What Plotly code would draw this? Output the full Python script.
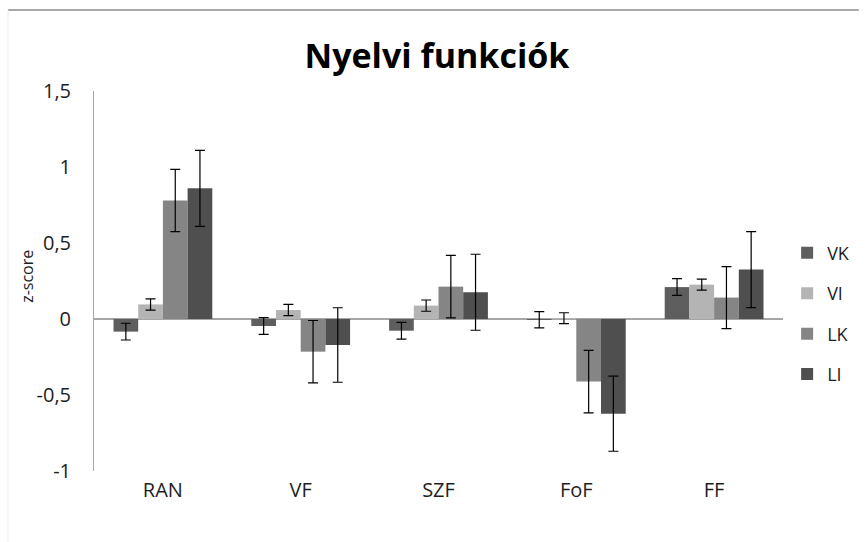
import plotly.graph_objects as go

# Language-function z-scores per group (mean and error)
categories = ["RAN", "VF", "SZF", "FoF", "FF"]
series_names = ["VK", "VI", "LK", "LI"]

vk_values = [-0.083, -0.046, -0.077, -0.005, 0.21]
vi_values = [0.096, 0.059, 0.088, 0.005, 0.226]
lk_values = [0.78, -0.215, 0.213, -0.412, 0.141]
li_values = [0.86, -0.171, 0.176, -0.623, 0.325]

vk_errors = [0.055, 0.055, 0.055, 0.053, 0.055]
vi_errors = [0.037, 0.037, 0.037, 0.036, 0.036]
lk_errors = [0.205, 0.205, 0.205, 0.205, 0.204]
li_errors = [0.25, 0.245, 0.25, 0.247, 0.25]

y_tickvals = [-1, -0.5, 0, 0.5, 1, 1.5]
y_ticktext = ["-1", "-0,5", "0", "0,5", "1", "1,5"]

colors = ["#5e5e5e", "#b4b4b4", "#858585", "#4f4f4f"]
FONT = "Open Sans"
TEXT = "#1e1e1e"

fig = go.Figure()
for i, (name, vals, errs) in enumerate(zip(
        series_names,
        [vk_values, vi_values, lk_values, li_values],
        [vk_errors, vi_errors, lk_errors, li_errors])):
    fig.add_trace(go.Bar(
        name=name,
        x=categories,
        y=vals,
        marker=dict(color=colors[i], line=dict(width=0)),
        error_y=dict(type="data", array=errs, visible=True,
                     color="black", thickness=1.2, width=5),
        legendgroup=name,
    ))

fig.update_layout(
    width=867,
    height=542,
    margin=dict(l=94, r=76, t=91, b=71),
    paper_bgcolor="white",
    plot_bgcolor="white",
    barmode="group",
    bargap=0.283,
    bargroupgap=0,
    font=dict(family=FONT, color=TEXT),
    title=dict(
        text="<b>Nyelvi funkciók</b>",
        font=dict(family=FONT, size=34, color="black"),
        x=0.504, xref="container", xanchor="center",
        y=0.897, yref="container", yanchor="middle",
    ),
    legend=dict(
        x=1.006, xanchor="left",
        y=0.622, yanchor="top",
        font=dict(family=FONT, size=18, color=TEXT),
        tracegroupgap=14,
        bgcolor="rgba(0,0,0,0)",
    ),
    showlegend=True,
)

fig.update_xaxes(
    showgrid=False,
    showline=False,
    ticks="",
    tickfont=dict(family=FONT, size=20, color=TEXT),
    ticklabelstandoff=5,
)

fig.update_yaxes(
    range=[-1, 1.5],
    tickvals=y_tickvals,
    ticktext=y_ticktext,
    showgrid=False,
    showline=True,
    linecolor="#a6a6a6",
    linewidth=1,
    zeroline=True,
    zerolinecolor="#a6a6a6",
    zerolinewidth=1.5,
    ticks="",
    tickfont=dict(family=FONT, size=20, color=TEXT),
    ticklabelstandoff=18,
)

# axis title
fig.add_annotation(
    text="z-score", textangle=-90,
    x=-0.0976, y=0.513, xref="paper", yref="paper",
    xanchor="center", yanchor="middle",
    showarrow=False, font=dict(family=FONT, size=16, color=TEXT),
)

# chart-area frame (top and faint left edge)
fig.add_shape(type="line", xref="paper", yref="paper",
              x0=-0.1248, x1=1.11, y0=1.213, y1=1.213,
              line=dict(color="#8c8c8c", width=1.5))
fig.add_shape(type="line", xref="paper", yref="paper",
              x0=-0.1248, x1=-0.1248, y0=-0.2, y1=1.213,
              line=dict(color="#ececec", width=1))

fig.write_html("out.html")
